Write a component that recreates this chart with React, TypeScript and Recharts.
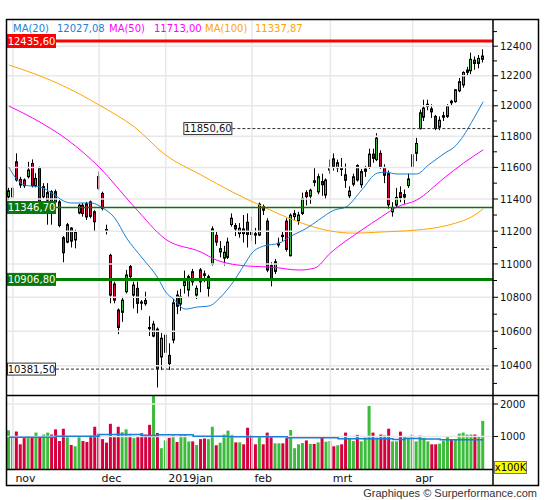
import React from 'react';
import { ComposedChart, Bar, Line, XAxis, YAxis, ReferenceLine, Cell } from 'recharts';

const FONT = '"DejaVu Sans", Verdana, sans-serif';
const GREEN = '#3dbb3d';
const RED = '#d6003f';
const MA20_C = '#1a7fd6';
const MA50_C = '#ff00ff';
const MA100_C = '#ffa500';
const GRID = '#e8e8e8';

// daily candles, 31 Oct 2018 .. 29 Apr 2019 (index 0..121)
const opens = [
  11414, 11414, 11636, 11524, 11520, 11541, 11625, 11484, 11594, 11414, 11393, 11446, 11446, 11382, 11160, 11133,
  11219, 11146, 11313, 11361, 11371, 11382, 11320, 11541, 11435, 11210, 11052, 10879, 10724, 10711, 10833, 10984,
  10813, 10853, 10772, 10781, 10622, 10572, 10612, 10451, 10478, 10460, 10549, 10813, 10760, 10870, 10843, 10953,
  10813, 10964, 10940, 10853, 10999, 11174, 11073, 11035, 11040, 11241, 11235, 11185, 11214, 11255, 11200, 11185,
  11176, 11353, 11262, 10990, 10955, 11115, 11175, 11262, 11050, 11290, 11265, 11310, 11440, 11418, 11515, 11445,
  11510, 11425, 11583, 11655, 11597, 11600, 11553, 11420, 11493, 11612, 11490, 11575, 11600, 11685, 11650, 11690,
  11600, 11560, 11320, 11362, 11440, 11412, 11485, 11600, 11690, 11850, 11925, 11995, 11980, 11930, 11860, 11925,
  11930, 12030, 12028, 12100, 12138, 12223, 12234, 12305, 12283, 12311,
];
const highs = [
  11470, 11480, 11690, 11540, 11530, 11636, 11651, 11563, 11605, 11500, 11500, 11456, 11460, 11393, 11170, 11251,
  11225, 11209, 11370, 11375, 11382, 11390, 11330, 11573, 11446, 11240, 11062, 10893, 10734, 10803, 10964, 10994,
  10893, 10893, 10783, 10833, 10688, 10661, 10622, 10590, 10628, 10530, 10790, 10840, 10850, 10960, 10935, 10970,
  10870, 10975, 10960, 10935, 11230, 11200, 11140, 11110, 11160, 11310, 11250, 11250, 11300, 11310, 11290, 11220,
  11378, 11365, 11280, 11010, 11030, 11160, 11195, 11280, 11310, 11330, 11320, 11440, 11455, 11465, 11600, 11560,
  11560, 11530, 11650, 11690, 11650, 11660, 11625, 11480, 11560, 11620, 11590, 11610, 11720, 11720, 11820, 11710,
  11620, 11580, 11380, 11470, 11480, 11460, 11560, 11700, 11790, 11975, 12040, 12040, 12010, 11940, 11930, 11960,
  12010, 12040, 12110, 12185, 12230, 12260, 12356, 12330, 12340, 12379,
];
const lows = [
  11393, 11400, 11510, 11470, 11470, 11530, 11473, 11473, 11360, 11404, 11240, 11240, 11350, 11224, 11010, 11126,
  11100, 11095, 11305, 11290, 11269, 11280, 11200, 11456, 11329, 11180, 10764, 10764, 10583, 10655, 10823, 10913,
  10734, 10705, 10725, 10750, 10572, 10565, 10277, 10376, 10382, 10376, 10530, 10700, 10720, 10822, 10800, 10870,
  10790, 10830, 10890, 10800, 10990, 11110, 11040, 10990, 11030, 11228, 11170, 11160, 11130, 11100, 11140, 11120,
  11170, 11300, 10950, 10865, 10940, 11100, 11140, 11075, 11045, 11270, 11240, 11300, 11360, 11370, 11480, 11430,
  11420, 11400, 11560, 11580, 11570, 11545, 11470, 11405, 11480, 11510, 11470, 11540, 11590, 11630, 11640, 11590,
  11500, 11340, 11290, 11350, 11380, 11370, 11470, 11580, 11640, 11845, 11900, 11970, 11920, 11840, 11840, 11900,
  11920, 12000, 12020, 12090, 12120, 12200, 12210, 12240, 12250, 12290,
];
const closes = [
  11452, 11467, 11520, 11488, 11484, 11583, 11484, 11530, 11370, 11478, 11440, 11371, 11382, 11235, 11068, 11240,
  11139, 11198, 11361, 11309, 11288, 11292, 11258, 11467, 11340, 11200, 10813, 10783, 10622, 10783, 10933, 10923,
  10873, 10764, 10765, 10762, 10615, 10642, 10382, 10559, 10577, 10413, 10767, 10747, 10804, 10893, 10923, 10892,
  10853, 10892, 10931, 10923, 11214, 11133, 11093, 11071, 11133, 11280, 11214, 11218, 11185, 11180, 11180, 11176,
  11368, 11330, 10963, 10909, 11013, 11126, 11167, 11089, 11299, 11309, 11300, 11404, 11415, 11455, 11505, 11541,
  11490, 11520, 11600, 11600, 11630, 11587, 11518, 11450, 11540, 11520, 11573, 11590, 11685, 11658, 11788, 11603,
  11550, 11364, 11347, 11410, 11410, 11428, 11526, 11681, 11754, 11954, 11985, 12010, 11960, 11851, 11905, 11935,
  11999, 12020, 12106, 12160, 12222, 12238, 12311, 12283, 12317, 12333,
];
// volume, x100K
const volumes = [
  1190, 1020, 1150, 760, 950, 950, 950, 1120, 990, 1060, 1120, 1060, 1220, 860, 1240, 980,
  740, 700, 980, 860, 830, 1020, 1300, 1080, 920, 810, 1390, 990, 1300, 1130, 1220, 1030,
  950, 990, 1100, 1060, 1360, 2400, 1110, 640, 880, 960, 1040, 830, 1050, 1050, 850, 850,
  740, 920, 940, 920, 1300, 730, 810, 1060, 1180, 1050, 820, 820, 760, 1270, 1030, 760,
  980, 760, 1120, 980, 790, 790, 790, 950, 1200, 640, 760, 800, 880, 770, 770, 820,
  960, 840, 860, 700, 730, 760, 1120, 930, 860, 1050, 850, 970, 1940, 1120, 970, 1060,
  1030, 1240, 850, 850, 1150, 1000, 960, 1060, 850, 1030, 960, 850, 760, 760, 780, 870,
  1000, 900, 890, 1090, 1120, 1060, 1060, 1060, 990, 1480,
];

// moving averages: [bar index, value]
const ma20Pts = [
  [0, 11602], [1, 11558], [4, 11488], [8, 11475], [11, 11437], [14, 11387], [16, 11375], [21, 11375],
  [24, 11343], [27, 11281], [30, 11158], [34, 11036], [38, 10915], [40, 10831], [42, 10789], [45, 10730],
  [48, 10742], [51, 10748], [54, 10801], [57, 10885], [60, 10993], [62, 11066], [65, 11109], [69, 11127],
  [72, 11170], [76, 11219], [79, 11269], [83, 11331], [86, 11350], [90, 11457], [94, 11564], [96, 11570],
  [99, 11558], [104, 11558], [107, 11615], [111, 11688], [114, 11740], [116, 11805], [118, 11890], [121, 12027.08],
];
const ma50Pts = [
  [0, 11998], [6, 11920], [15, 11776], [23, 11602], [32, 11350], [40, 11150], [49, 11072], [53, 11023],
  [61, 10987], [67, 10981], [74, 10963], [78, 10975], [82, 11066], [90, 11207], [95, 11288], [99, 11350],
  [104, 11393], [111, 11532], [116, 11628], [121, 11713],
];
const ma100Pts = [
  [0, 12272], [6, 12218], [15, 12118], [23, 12005], [32, 11861], [40, 11679], [49, 11552], [57, 11444],
  [65, 11350], [74, 11256], [82, 11201], [88, 11188], [95, 11195], [104, 11207], [110, 11226], [114, 11250],
  [118, 11288], [121, 11337.87],
];
const volMaPts = [
  [0, 980], [12, 1010], [23, 1060], [34, 1030], [38, 1050], [47, 1010], [56, 990], [71, 960],
  [84, 930], [98, 910], [101, 940], [105, 920], [110, 900], [121, 900],
];

const monthStarts = [1, 23, 40, 62, 82, 103];
const monthLabels = ['nov', 'dec', '2019jan', 'feb', 'mrt', 'apr'];
const priceLabels = [10400, 10600, 10800, 11000, 11200, 11400, 11600, 11800, 12000, 12200, 12400];
const priceMinor = [10300, 10500, 10700, 10900, 11100, 11300, 11500, 11700, 11900, 12100, 12300, 12500];
const volTicks = [1000, 2000];

const legend = [
  { text: 'MA(20)', x: 13, color: MA20_C },
  { text: '12027,08', x: 57, color: MA20_C },
  { text: 'MA(50)', x: 109, color: MA50_C },
  { text: '11713,00', x: 154, color: MA50_C },
  { text: 'MA(100)', x: 205, color: MA100_C },
  { text: '11337,87', x: 255, color: MA100_C },
];

const P_MIN = 10234.6;
const P_MAX = 12587;
const V_MAX = 2246;
const PAD = 2;

const rows: any[] = [];
for (let i = 0; i < closes.length + PAD; i++) {
  rows.push(
    i < closes.length
      ? { i, o: opens[i], h: highs[i], l: lows[i], c: closes[i], range: [lows[i], highs[i]], vol: volumes[i] }
      : { i, range: null, vol: null },
  );
}
ma20Pts.forEach(([i, v]) => (rows[i].ma20 = v));
ma50Pts.forEach(([i, v]) => (rows[i].ma50 = v));
ma100Pts.forEach(([i, v]) => (rows[i].ma100 = v));
volMaPts.forEach(([i, v]) => (rows[i].volMa = v));

function Candle(props: any) {
  const { x, y, width, height, payload } = props;
  if (!payload || payload.o == null || !isFinite(y) || !isFinite(height)) return null;
  const { o, h, l, c } = payload;
  const lh = Math.log(h);
  const span = lh - Math.log(l) || 1;
  const py = (v: number) => y + (height * (lh - Math.log(v))) / span;
  const cx = Math.round(x + width / 2 - 0.5) + 0.5;
  const top = py(Math.max(o, c));
  const bot = py(Math.min(o, c));
  return (
    <g>
      <line x1={cx} x2={cx} y1={y} y2={y + height} stroke="#000" strokeWidth={1} />
      <rect
        x={cx - 1}
        y={top}
        width={2}
        height={Math.max(bot - top, 0.8)}
        fill={c >= o ? GREEN : RED}
        stroke="#000"
        strokeWidth={1}
      />
    </g>
  );
}

function PriceTick(props: any) {
  const { x, y, payload } = props;
  const major = priceLabels.includes(payload.value);
  return (
    <g>
      <line x1={x} x2={x + (major ? 5 : 4)} y1={y} y2={y} stroke="#000" />
      {major && (
        <text x={x + 7} y={y + 3.6} fontFamily={FONT} fontSize={10} fill="#111">
          {payload.value}
        </text>
      )}
    </g>
  );
}

function VolTick(props: any) {
  const { x, y, payload } = props;
  return (
    <g>
      <line x1={x} x2={x + 5} y1={y} y2={y} stroke="#000" />
      <text x={x + 7} y={y + 3.6} fontFamily={FONT} fontSize={10} fill="#111">
        {payload.value}
      </text>
    </g>
  );
}

function MonthTick(props: any) {
  const { x, y, payload } = props;
  const k = monthStarts.indexOf(payload.value);
  if (k < 0) return null;
  return (
    <text x={x + 2.5} y={y + 12.5} fontFamily={FONT} fontSize={11} fill="#111">
      {monthLabels[k]}
    </text>
  );
}

function LevelTag(props: any) {
  const { viewBox, text, bg, fg, border, anchor, h = 12 } = props;
  if (!viewBox) return null;
  const w = 49;
  const x = anchor === 'end' ? viewBox.x - w : viewBox.x;
  const y = viewBox.y - h / 2;
  return (
    <g>
      <rect x={x + 0.5} y={y} width={w - 1} height={h} fill={bg} stroke={border || bg} strokeWidth={1} />
      <text x={x + w / 2} y={y + h / 2 + 3.7} textAnchor="middle" fontFamily={FONT} fontSize={10} fill={fg}>
        {text}
      </text>
    </g>
  );
}

export default function App() {
  return (
    <div style={{ position: 'absolute', left: 0, top: 0, width: 545, height: 500, background: '#fff' }}>
      <div style={{ position: 'absolute', left: 0, top: 0 }}>
        <ComposedChart width={545} height={400} data={rows} margin={{ top: 19, right: 0, bottom: 5, left: 7 }}>
          <XAxis dataKey="i" type="category" hide />
          <YAxis
            orientation="right"
            scale="log"
            domain={[P_MIN, P_MAX]}
            allowDataOverflow
            ticks={[...priceMinor, ...priceLabels].sort((a, b) => a - b)}
            interval={0}
            tick={<PriceTick />}
            tickLine={false}
            axisLine={false}
            tickSize={0}
            tickMargin={0}
            width={52}
          />
          {priceLabels.map((v) => (
            <ReferenceLine key={'h' + v} y={v} stroke={GRID} strokeWidth={1.5} />
          ))}
          {monthStarts.map((m) => (
            <ReferenceLine key={'v' + m} x={m} stroke={GRID} strokeWidth={1.5} />
          ))}
          <Bar dataKey="range" barSize={3} isAnimationActive={false} shape={(p: any) => <Candle {...p} />} />
          <Line dataKey="ma100" type="monotone" stroke={MA100_C} strokeWidth={1} dot={false} connectNulls isAnimationActive={false} />
          <Line dataKey="ma50" type="monotone" stroke={MA50_C} strokeWidth={1} dot={false} connectNulls isAnimationActive={false} />
          <Line dataKey="ma20" type="monotone" stroke={MA20_C} strokeWidth={1} dot={false} connectNulls isAnimationActive={false} />
          <ReferenceLine
            y={12435.6}
            stroke="#ff0000"
            strokeWidth={3}
            label={<LevelTag text="12435,60" bg="#ff0000" fg="#fff" h={13} />}
          />
          <ReferenceLine
            segment={[{ x: 57, y: 11850.6 }, { x: 123, y: 11850.6 }]}
            stroke="#333"
            strokeDasharray="3 2"
            label={<LevelTag text="11850,60" bg="#fff" fg="#111" border="#333" anchor="end" />}
          />
          <ReferenceLine
            y={11346.7}
            stroke="#0a730a"
            strokeWidth={1.5}
            label={<LevelTag text="11346,70" bg="#087808" fg="#fff" />}
          />
          <ReferenceLine
            y={10906.8}
            stroke="#008000"
            strokeWidth={3}
            label={<LevelTag text="10906,80" bg="#087808" fg="#fff" />}
          />
          <ReferenceLine
            segment={[{ x: 12, y: 10381.5 }, { x: 123, y: 10381.5 }]}
            stroke="#333"
            strokeDasharray="3 2"
            label={<LevelTag text="10381,50" bg="#fff" fg="#111" border="#333" anchor="end" />}
          />
        </ComposedChart>
      </div>

      <div style={{ position: 'absolute', left: 0, top: 390 }}>
        <ComposedChart width={545} height={110} data={rows} margin={{ top: 6, right: 0, bottom: 14, left: 7 }}>
          <XAxis
            dataKey="i"
            type="category"
            height={17}
            interval={0}
            tick={<MonthTick />}
            tickLine={false}
            axisLine={false}
            tickSize={0}
            tickMargin={0}
          />
          <YAxis
            orientation="right"
            domain={[0, V_MAX]}
            allowDataOverflow
            ticks={volTicks}
            interval={0}
            tick={<VolTick />}
            tickLine={false}
            axisLine={false}
            tickSize={0}
            tickMargin={0}
            width={52}
          />
          {volTicks.map((v) => (
            <ReferenceLine key={'vh' + v} y={v} stroke={GRID} strokeWidth={1.5} />
          ))}
          {monthStarts.map((m) => (
            <ReferenceLine key={'vv' + m} x={m} stroke={GRID} strokeWidth={1.5} />
          ))}
          <Bar dataKey="vol" barSize={3} isAnimationActive={false}>
            {rows.map((r) => (
              <Cell key={r.i} fill={r.c >= r.o ? GREEN : RED} />
            ))}
          </Bar>
          <Line dataKey="volMa" type="stepAfter" stroke={MA20_C} strokeWidth={1.5} dot={false} connectNulls isAnimationActive={false} />
        </ComposedChart>
      </div>

      <svg width={545} height={500} style={{ position: 'absolute', left: 0, top: 0, pointerEvents: 'none' }}>
        <rect x={6.5} y={19.5} width={532} height={466} fill="none" stroke="#000" strokeWidth={1.5} />
        <line x1={493} x2={493} y1={19} y2={486} stroke="#000" strokeWidth={1.5} />
        <line x1={6} x2={539} y1={395.5} y2={395.5} stroke="#000" strokeWidth={1.5} />
        <line x1={6} x2={493} y1={469.5} y2={469.5} stroke="#000" strokeWidth={1.5} />
        <text y={31.5} fontFamily={FONT} fontSize={10}>
          {legend.map((d) => (
            <tspan key={d.text} x={d.x} fill={d.color}>
              {d.text}
            </tspan>
          ))}
        </text>
        <rect x={494.5} y={461.5} width={32} height={12} fill="#ffff00" stroke="#776" strokeWidth={1} />
        <text x={510.5} y={471} textAnchor="middle" fontFamily={FONT} fontSize={10} fill="#000">
          x100K
        </text>
        <text x={537} y={497} textAnchor="end" fontFamily='"Liberation Sans", Arial, sans-serif' fontSize={11} fill="#333">
          Graphiques © Surperformance.com
        </text>
      </svg>
    </div>
  );
}
